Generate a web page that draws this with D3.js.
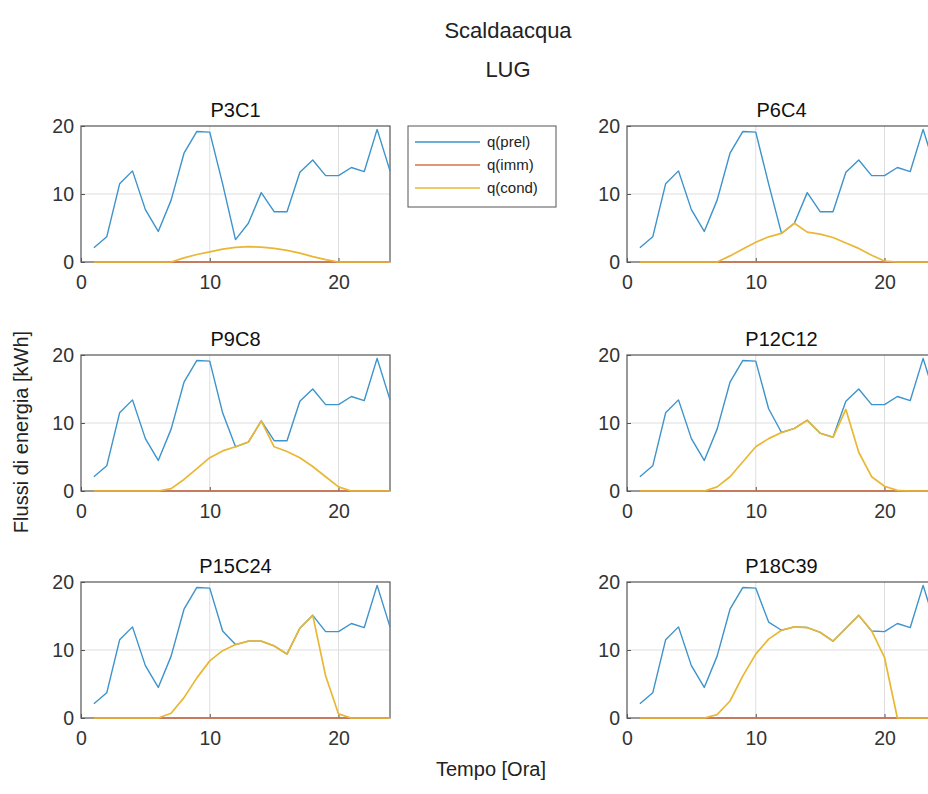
<!DOCTYPE html>
<html>
<head>
<meta charset="utf-8">
<script src="https://cdn.jsdelivr.net/npm/d3@7"></script>
<style>
  html, body { margin: 0; padding: 0; background: #fff; }
  svg { display: block; font-family: "Liberation Sans", Arial, sans-serif; }
</style>
</head>
<body>
<svg id="chart" width="928" height="794"></svg>
<script>
// ---- data ----
const hours = d3.range(1, 25);
const panelTitles = ["P3C1", "P6C4", "P9C8", "P12C12", "P15C24", "P18C39"];
const xTicks = [0, 10, 20];
const yTicks = [0, 10, 20];
const seriesNames = ["q(prel)", "q(imm)", "q(cond)"];

const prelP3C1   = [2.1,3.7,11.5,13.4,7.7,4.5,9.1,16.0,19.2,19.1,11.5,3.3,5.7,10.2,7.4,7.4,13.2,15.0,12.7,12.7,13.9,13.3,19.5,13.4];
const prelP6C4   = [2.1,3.7,11.5,13.4,7.7,4.5,9.1,16.0,19.2,19.1,11.5,4.2,5.7,10.2,7.4,7.4,13.2,15.0,12.7,12.7,13.9,13.3,19.5,13.4];
const prelP9C8   = [2.1,3.7,11.5,13.4,7.7,4.5,9.1,16.0,19.2,19.1,11.5,6.5,7.2,10.3,7.4,7.4,13.2,15.0,12.7,12.7,13.9,13.3,19.5,13.4];
const prelP12C12 = [2.1,3.7,11.5,13.4,7.7,4.5,9.1,16.0,19.2,19.1,12.1,8.6,9.2,10.4,8.5,7.9,13.2,15.0,12.7,12.7,13.9,13.3,19.5,13.4];
const prelP15C24 = [2.1,3.7,11.5,13.4,7.7,4.5,9.1,16.0,19.2,19.1,12.8,10.8,11.3,11.3,10.6,9.4,13.2,15.1,12.7,12.7,13.9,13.3,19.5,13.4];
const prelP18C39 = [2.1,3.7,11.5,13.4,7.7,4.5,9.1,16.0,19.2,19.1,14.1,12.9,13.4,13.3,12.6,11.3,13.2,15.1,12.8,12.7,13.9,13.3,19.5,13.4];

const immAll = [0,0,0,0,0,0,0,0,0,0,0,0,0,0,0,0,0,0,0,0,0,0,0,0];

const condP3C1   = [0,0,0,0,0,0,0,0.6,1.1,1.5,1.9,2.15,2.25,2.2,2.0,1.7,1.3,0.8,0.35,0,0,0,0,0];
const condP6C4   = [0,0,0,0,0,0,0,0.9,1.9,2.9,3.7,4.2,5.7,4.4,4.1,3.6,2.8,2.0,1.0,0.15,0,0,0,0];
const condP9C8   = [0,0,0,0,0,0,0.35,1.7,3.3,4.9,5.9,6.5,7.2,10.3,6.5,5.8,4.9,3.6,2.1,0.6,0,0,0,0];
const condP12C12 = [0,0,0,0,0,0,0.6,2.1,4.3,6.5,7.7,8.6,9.2,10.4,8.5,7.9,12.0,5.7,2.1,0.7,0.1,0,0,0];
const condP15C24 = [0,0,0,0,0,0,0.7,3.0,5.9,8.4,9.9,10.8,11.3,11.3,10.6,9.4,13.2,15.1,6.2,0.6,0,0,0,0];
const condP18C39 = [0,0,0,0,0,0,0.5,2.5,6.2,9.4,11.6,12.9,13.4,13.3,12.6,11.3,13.2,15.1,12.8,8.9,0,0,0,0];

const prelSets = [prelP3C1, prelP6C4, prelP9C8, prelP12C12, prelP15C24, prelP18C39];
const condSets = [condP3C1, condP6C4, condP9C8, condP12C12, condP15C24, condP18C39];

// ---- layout ----
const colors = ["#3d93cb", "#d9704a", "#e9b733"];
const colX = [81, 627];
const rowY = [126, 355, 582];
const pw = 309, ph = 136;

const svg = d3.select("#chart");
const x = d3.scaleLinear().domain([0, 24]).range([0, pw]);
const y = d3.scaleLinear().domain([0, 20]).range([ph, 0]);
const line = d3.line().x((d, i) => x(hours[i])).y(d => y(d));

panelTitles.forEach((t, k) => {
  const g = svg.append("g").attr("transform", `translate(${colX[k % 2]},${rowY[Math.floor(k / 2)]})`);
  g.append("rect").attr("width", pw).attr("height", ph).attr("fill", "#fff");
  // grid
  g.selectAll(".gx").data(xTicks.filter(v => v > 0 && v < 24)).join("line")
    .attr("x1", d => x(d)).attr("x2", d => x(d)).attr("y1", 0).attr("y2", ph)
    .attr("stroke", "#dedede").attr("stroke-width", 1);
  g.selectAll(".gy").data(yTicks.filter(v => v > 0 && v < 20)).join("line")
    .attr("y1", d => y(d)).attr("y2", d => y(d)).attr("x1", 0).attr("x2", pw)
    .attr("stroke", "#dedede").attr("stroke-width", 1);

  // axes
  const xa = g.append("g").attr("transform", `translate(0,${ph})`)
    .call(d3.axisBottom(x).tickValues(xTicks).tickSize(-4).tickPadding(13));
  const ya = g.append("g")
    .call(d3.axisLeft(y).tickValues(yTicks).tickSize(-4).tickPadding(7));
  [xa, ya].forEach(a => {
    a.select(".domain").remove();
    a.selectAll(".tick line").attr("stroke", "#555");
    a.selectAll("text").attr("font-size", 19.5).attr("fill", "#333").attr("font-family", "Liberation Sans, Arial, sans-serif");
  });
  g.append("rect").attr("width", pw).attr("height", ph).attr("fill", "none")
    .attr("stroke", "#555").attr("stroke-width", 1.2);

  // series
  const series = [prelSets[k], immAll, condSets[k]];
  series.forEach((s, j) => {
    g.append("path").datum(s).attr("d", line).attr("fill", "none")
      .attr("stroke", colors[j]).attr("stroke-width", j === 2 ? 1.7 : 1.4).attr("stroke-linejoin", "round");
  });

  // title
  g.append("text").attr("x", pw / 2).attr("y", -9).attr("text-anchor", "middle")
    .attr("font-size", 20).attr("fill", "#111").text(t);
});

// legend
const lg = svg.append("g").attr("transform", "translate(408,126)");
lg.append("rect").attr("width", 148).attr("height", 81).attr("fill", "#fff")
  .attr("stroke", "#555").attr("stroke-width", 1);
seriesNames.forEach((n, j) => {
  const yy = 16 + j * 23;
  lg.append("line").attr("x1", 7).attr("x2", 72).attr("y1", yy).attr("y2", yy)
    .attr("stroke", colors[j]).attr("stroke-width", 1.4);
  lg.append("text").attr("x", 79).attr("y", yy + 5).attr("font-size", 15).attr("fill", "#222").text(n);
});

// super titles and labels
svg.append("text").attr("x", 508).attr("y", 38).attr("text-anchor", "middle")
  .attr("font-size", 22).attr("fill", "#222").text("Scaldaacqua");
svg.append("text").attr("x", 508).attr("y", 77).attr("text-anchor", "middle")
  .attr("font-size", 22).attr("fill", "#222").text("LUG");
svg.append("text").attr("x", 491).attr("y", 776).attr("text-anchor", "middle")
  .attr("font-size", 20).attr("fill", "#222").text("Tempo [Ora]");
svg.append("text").attr("transform", "translate(28,432) rotate(-90)").attr("text-anchor", "middle")
  .attr("font-size", 20).attr("fill", "#222").text("Flussi di energia [kWh]");
</script>
</body>
</html>
